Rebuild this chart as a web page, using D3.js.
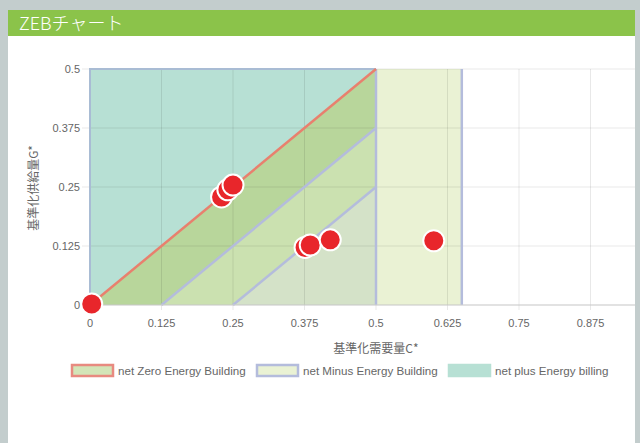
<!DOCTYPE html>
<html>
<head>
<meta charset="utf-8">
<script src="https://cdn.jsdelivr.net/npm/d3@7"></script>
<style>
  body { margin: 0; background: #c3cdcd; }
  svg { display: block; }
</style>
</head>
<body>
<div id="zeb_chart"></div>
<script>
// chart values
var xTicks = [0, 0.125, 0.25, 0.375, 0.5, 0.625, 0.75, 0.875];
var yTicks = [0, 0.125, 0.25, 0.375, 0.5];

// measured points (C*, G*)
var pointC = [0.003, 0.23, 0.241, 0.25, 0.376, 0.385, 0.42, 0.601];
var pointG = [0.002, 0.229, 0.244, 0.254, 0.122, 0.127, 0.138, 0.136];

// region outlines
var plusArea  = [[0, 0], [0, 0.5], [0.5, 0.5], [0.5, 0]];
var minusArea = [[0.5, 0], [0.5, 0.5], [0.65, 0.5], [0.65, 0]];
var zeroArea  = [[0, 0], [0.5, 0.5], [0.5, 0]];
var band1     = [[0.125, 0], [0.5, 0.375], [0.5, 0]];
var band2     = [[0.25, 0], [0.5, 0.25], [0.5, 0]];

var legendNames = ["net Zero Energy Building", "net Minus Energy Building", "net plus Energy billing"];

var W = 640, H = 443;

var svg = d3.select("#zeb_chart")
  .append("svg")
    .attr("width", W)
    .attr("height", H);

// frame + panel
svg.append("rect").attr("x", 8).attr("y", 10).attr("width", 627).attr("height", H - 10).attr("fill", "#fff");
svg.append("rect").attr("x", 8).attr("y", 10).attr("width", 627).attr("height", 26).attr("fill", "#8bc34a");
svg.append("text")
  .attr("x", 19).attr("y", 30)
  .attr("fill", "#fff")
  .style("font-family", "'Noto Sans CJK JP', 'Liberation Sans', sans-serif")
  .style("font-size", "18px")
  .style("font-weight", "300")
  .text("ZEBチャート");

var x = d3.scaleLinear().domain([0, 1]).range([90, 662]);
var y = d3.scaleLinear().domain([0, 0.5]).range([305, 69]);

svg.append("clipPath").attr("id", "clip")
  .append("rect").attr("x", 0).attr("y", 0).attr("width", 635).attr("height", H);

var g = svg.append("g").attr("clip-path", "url(#clip)");

var poly = d3.line().x(function(d) { return x(d[0]); }).y(function(d) { return y(d[1]); });

g.append("path").attr("d", poly(plusArea) + "Z").attr("fill", "#b7e0d4");
g.append("path").attr("d", poly(minusArea) + "Z").attr("fill", "#eaf2d4");
g.append("path").attr("d", poly(zeroArea) + "Z").attr("fill", "#b8d69b");
g.append("path").attr("d", poly(band1) + "Z").attr("fill", "#cbe1b0");
g.append("path").attr("d", poly(band2) + "Z").attr("fill", "#d4e2c8");

// gridlines
var grid = g.append("g");
grid.selectAll(".gx").data(xTicks.concat([1])).enter().append("line")
  .attr("x1", function(d) { return x(d); }).attr("x2", function(d) { return x(d); })
  .attr("y1", y(0.5)).attr("y2", y(0) + 5)
  .attr("stroke", "rgba(0,0,0,0.09)");
grid.selectAll(".gy").data(yTicks).enter().append("line")
  .attr("x1", x(0) - 8).attr("x2", 635)
  .attr("y1", function(d) { return y(d); }).attr("y2", function(d) { return y(d); })
  .attr("stroke", "rgba(0,0,0,0.09)");

// region borders
var blue = "#b4bcdc";
g.append("path").attr("d", poly([[0, 0], [0, 0.5], [0.5, 0.5]])).attr("fill", "none").attr("stroke", "#a9bcd4").attr("stroke-width", 2);
g.append("path").attr("d", poly([[0.5, 0], [0.5, 0.5]])).attr("fill", "none").attr("stroke", blue).attr("stroke-width", 2.5);
g.append("path").attr("d", poly([[0.65, 0], [0.65, 0.5]])).attr("fill", "none").attr("stroke", blue).attr("stroke-width", 2.5);
g.append("path").attr("d", poly(band1.slice(0, 2))).attr("fill", "none").attr("stroke", blue).attr("stroke-width", 2.5);
g.append("path").attr("d", poly(band2.slice(0, 2))).attr("fill", "none").attr("stroke", blue).attr("stroke-width", 2.5);
g.append("path").attr("d", poly(zeroArea.slice(0, 2))).attr("fill", "none").attr("stroke", "#e8806e").attr("stroke-width", 2.5);

// bottom axis line
g.append("line").attr("x1", x(0)).attr("x2", 635).attr("y1", y(0)).attr("y2", y(0)).attr("stroke", "#d0d0d0");

// tick labels
var tickFont = "'Liberation Sans', Arial, sans-serif";
svg.selectAll(".xl").data(xTicks).enter().append("text")
  .attr("x", function(d) { return x(d); }).attr("y", 327)
  .attr("text-anchor", "middle")
  .attr("fill", "#666")
  .style("font-family", tickFont).style("font-size", "11px")
  .text(function(d) { return d3.format("")(d); });
svg.selectAll(".yl").data(yTicks).enter().append("text")
  .attr("x", 80).attr("y", function(d) { return y(d) + 4; })
  .attr("text-anchor", "end")
  .attr("fill", "#666")
  .style("font-family", tickFont).style("font-size", "11px")
  .text(function(d) { return d3.format("")(d); });

// axis titles
svg.append("text")
  .attr("x", 376).attr("y", 353)
  .attr("text-anchor", "middle")
  .attr("fill", "#666")
  .style("font-family", "'Noto Sans CJK JP', sans-serif").style("font-size", "12px")
  .text("基準化需要量C*");
svg.append("text")
  .attr("transform", "translate(38,188) rotate(-90)")
  .attr("text-anchor", "middle")
  .attr("fill", "#666")
  .style("font-family", "'Noto Sans CJK JP', sans-serif").style("font-size", "12px")
  .text("基準化供給量G*");

// points
g.selectAll(".pt").data(pointC).enter().append("circle")
  .attr("cx", function(d) { return x(d); })
  .attr("cy", function(d, i) { return y(pointG[i]); })
  .attr("r", 10.5)
  .attr("fill", "#e8262b")
  .attr("stroke", "#fff")
  .attr("stroke-width", 2);

// legend
var legendFill = ["#d3e5b8", "#eaf2d4", "#b7e0d4"];
var legendStroke = ["#e88a80", "#b4bcdc", "#b7e0d4"];
var legendX = [72, 257, 449];
var lg = svg.selectAll(".lg").data(legendNames).enter().append("g")
  .attr("transform", function(d, i) { return "translate(" + legendX[i] + ",365)"; });
lg.append("rect")
  .attr("width", 41).attr("height", 11)
  .attr("fill", function(d, i) { return legendFill[i]; })
  .attr("stroke", function(d, i) { return legendStroke[i]; })
  .attr("stroke-width", 2.5);
lg.append("text")
  .attr("x", 46).attr("y", 9.5)
  .attr("fill", "#666")
  .style("font-family", tickFont).style("font-size", "11.6px")
  .text(function(d) { return d; });
</script>
</body>
</html>
